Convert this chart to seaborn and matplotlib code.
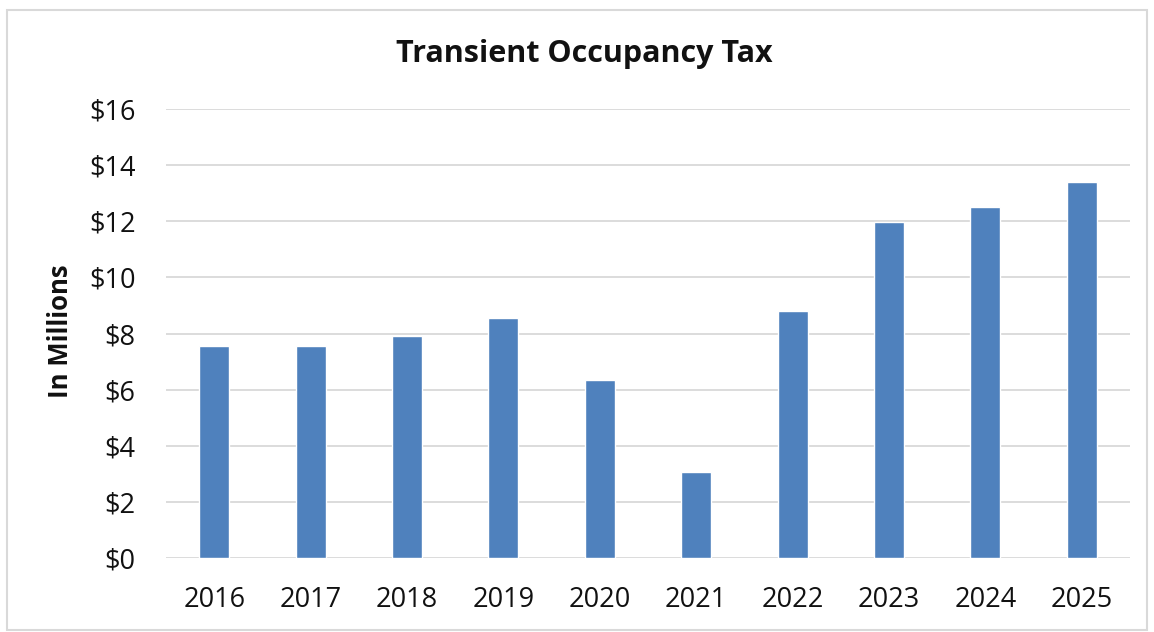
import matplotlib
matplotlib.use("Agg")
import matplotlib.pyplot as plt
from matplotlib.patches import Rectangle
import seaborn as sns
import pandas as pd

# Transient occupancy tax revenue by fiscal year, in millions of dollars
years = ["2016", "2017", "2018", "2019", "2020", "2021", "2022", "2023", "2024", "2025"]
revenue = [7.57, 7.57, 7.90, 8.56, 6.34, 3.05, 8.80, 11.96, 12.52, 13.41]
y_ticks = [0, 2, 4, 6, 8, 10, 12, 14, 16]

sns.set_theme(style="white")
plt.rcParams["font.family"] = ["Open Sans", "DejaVu Sans"]

df = pd.DataFrame({"year": years, "revenue": revenue})

fig = plt.figure(figsize=(11.54, 6.32), dpi=100)
ax = fig.add_axes([166 / 1154, 1 - 558 / 632, (1130 - 166) / 1154, (558 - 109) / 632])

sns.barplot(data=df, x="year", y="revenue", color="#4F81BD", saturation=1,
            width=0.31, ax=ax, zorder=3)

ax.set_ylim(0, 16)
ax.set_yticks(y_ticks)
ax.set_yticklabels([f"${v}" for v in y_ticks])
ax.yaxis.grid(True, color="#D9D9D9", linewidth=1.3, zorder=0)
ax.set_axisbelow(True)
for s in ax.spines.values():
    s.set_visible(False)
ax.tick_params(axis="both", length=0, labelsize=19.5, colors="#111111")
ax.tick_params(axis="y", pad=22)
ax.tick_params(axis="x", pad=20)
ax.set_xlabel("")
ax.set_ylabel("In Millions", fontsize=18.5, fontweight="bold", color="#111111")
ax.yaxis.set_label_coords(-0.095, 0.505)

fig.text(0.506, 1 - 62 / 632, "Transient Occupancy Tax", ha="center", va="baseline",
         fontsize=22, fontweight="bold", color="#111111")

# Light frame around the whole chart area
fig.patches.append(Rectangle((7 / 1154, 2 / 632), 1 - 14 / 1154, 1 - 12 / 632,
                             transform=fig.transFigure, fill=False,
                             edgecolor="#D9D9D9", linewidth=1.5))

fig.savefig("out.png", dpi=100)
